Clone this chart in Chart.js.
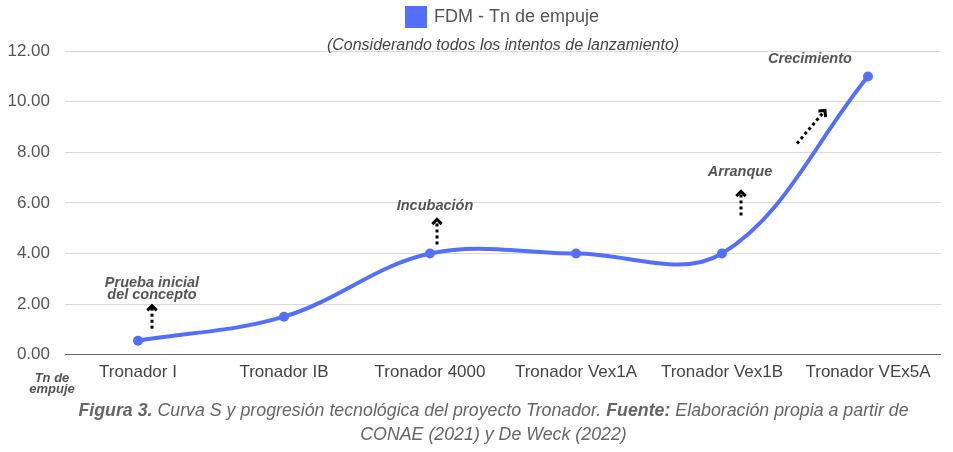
<!DOCTYPE html>
<html><head><meta charset="utf-8">
<script src="https://cdn.jsdelivr.net/npm/chart.js@4"></script>
<style>
html,body{margin:0;padding:0;background:#fff;}
#wrap{position:relative;width:953px;height:452px;}
#cap{position:absolute;left:34px;top:398px;width:919px;text-align:center;font-family:"Liberation Sans",Arial,sans-serif;font-style:italic;font-size:17.8px;line-height:24px;color:#666;}
#cap b{font-weight:bold;}
</style></head>
<body>
<div id="wrap"><canvas id="c" width="953" height="452"></canvas>
<div id="cap"><b>Figura 3.</b> Curva S y progresión tecnológica del proyecto Tronador. <b>Fuente:</b> Elaboración propia a partir de<br>CONAE (2021) y De Weck (2022)</div></div>
<script>
const categories = ['Tronador I','Tronador IB','Tronador 4000','Tronador Vex1A','Tronador Vex1B','Tronador VEx5A'];
const thrust = [0.55, 1.5, 4.0, 4.0, 4.0, 11.0];
const seriesName = 'FDM - Tn de empuje';
const subtitleText = '(Considerando todos los intentos de lanzamiento)';
const yTicks = [0, 2, 4, 6, 8, 10, 12];
const stageLabels = [['Prueba inicial','del concepto'], ['Incubación'], ['Arranque'], ['Crecimiento']];
const stageCategories = ['Tronador I','Tronador 4000','Tronador Vex1B','Tronador VEx5A'];
const axisNote = ['Tn de','empuje'];

const stageLayout = [
  {tx:14, ty:-58, ax1:14, ay1:-12, ax2:14, ay2:-35},
  {tx:5, ty:-47, ax1:7, ay1:-9, ax2:7, ay2:-34},
  {tx:18, ty:-81, ax1:19, ay1:-38, ax2:19, ay2:-62},
  {tx:-58, ty:-17, ax1:-71, ay1:67, ax2:-43, ay2:34}
];

function drawArrow(ctx, x1, y1, x2, y2){
  const ang = Math.atan2(y2-y1, x2-x1);
  ctx.save();
  ctx.strokeStyle = '#000';
  ctx.lineWidth = 3;
  ctx.setLineDash([3,3]);
  ctx.beginPath();
  ctx.moveTo(x1,y1);
  ctx.lineTo(x2 - Math.cos(ang)*2, y2 - Math.sin(ang)*2);
  ctx.stroke();
  ctx.setLineDash([]);
  ctx.lineWidth = 3;
  ctx.lineJoin = 'miter';
  const h = 6.6;
  ctx.beginPath();
  ctx.moveTo(x2 + Math.cos(ang+Math.PI*0.75)*h, y2 + Math.sin(ang+Math.PI*0.75)*h);
  ctx.lineTo(x2, y2);
  ctx.lineTo(x2 + Math.cos(ang-Math.PI*0.75)*h, y2 + Math.sin(ang-Math.PI*0.75)*h);
  ctx.stroke();
  ctx.restore();
}

const annotPlugin = {
  id: 'annot',
  afterDatasetsDraw(chart){
    const ctx = chart.ctx;
    const xs = chart.scales.x, ys = chart.scales.y;
    ctx.save();
    stageLabels.forEach((lines, i) => {
      const idx = categories.indexOf(stageCategories[i]);
      const px = xs.getPixelForValue(idx);
      const py = ys.getPixelForValue(thrust[idx]);
      const L = stageLayout[i];
      ctx.font = 'italic bold 14.5px "Liberation Sans", Arial, sans-serif';
      ctx.fillStyle = '#555';
      ctx.textAlign = 'center';
      ctx.textBaseline = 'middle';
      lines.forEach((t, k) => ctx.fillText(t, px + L.tx, py + L.ty + k*12.5));
      drawArrow(ctx, px + L.ax1, py + L.ay1, px + L.ax2, py + L.ay2);
    });
    ctx.font = 'italic bold 13px "Liberation Sans", Arial, sans-serif';
    ctx.fillStyle = '#555';
    ctx.textAlign = 'center';
    ctx.textBaseline = 'middle';
    const bx = chart.chartArea.left - 13;
    const by = chart.chartArea.bottom + 24;
    axisNote.forEach((t,k) => ctx.fillText(t, bx, by + k*11));
    ctx.restore();
  }
};

new Chart(document.getElementById('c'), {
  type: 'line',
  data: {
    labels: categories,
    datasets: [{
      label: seriesName,
      data: thrust,
      borderColor: '#5470fb',
      backgroundColor: '#5470fb',
      borderWidth: 4,
      pointRadius: 5,
      pointBackgroundColor: '#5470fb',
      pointBorderWidth: 0,
      tension: 0.36,
      fill: false
    }]
  },
  options: {
    responsive: false,
    animation: false,
    layout: {padding: {left: 0, right: 12, top: 4, bottom: 61}},
    plugins: {
      legend: {
        display: true,
        position: 'top',
        fullSize: false,
        labels: {
          boxWidth: 18, boxHeight: 18, padding: 4,
          color: '#555',
          font: {family: '"Liberation Sans", Arial, sans-serif', size: 18}
        }
      },
      subtitle: {
        display: true,
        text: subtitleText,
        weight: 500,
        fullSize: false,
        color: '#444',
        font: {family: '"Liberation Sans", Arial, sans-serif', size: 16, style: 'italic', weight: 'normal'},
        padding: {top: 0, bottom: -4}
      },
      tooltip: {enabled: false}
    },
    scales: {
      x: {
        offset: true,
        grid: {display: false, drawTicks: false},
        border: {display: false},
        ticks: {color: '#444', padding: 8, maxRotation: 0, font: {family: '"Liberation Sans", Arial, sans-serif', size: 17}}
      },
      y: {
        min: 0, max: 12,
        afterBuildTicks(scale){ scale.ticks = yTicks.map(v => ({value: v})); },
        afterFit(scale){ scale.width = 65; },
        grid: {
          color: ctx => ctx.tick && ctx.tick.value === 0 ? '#666' : '#d9d9d9',
          lineWidth: 1,
          drawTicks: false
        },
        border: {display: false},
        ticks: {
          color: '#555', padding: 15,
          font: {family: '"Liberation Sans", Arial, sans-serif', size: 17},
          callback: v => Number(v).toFixed(2)
        }
      }
    }
  },
  plugins: [annotPlugin]
});
</script>
</body></html>
